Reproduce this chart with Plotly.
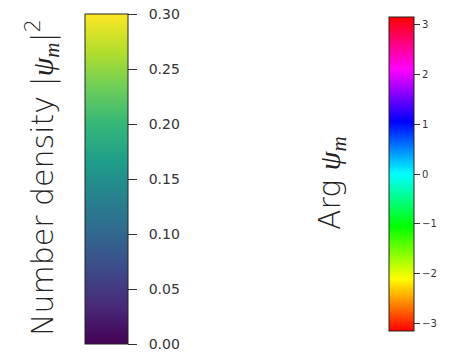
import math
import plotly.graph_objects as go

# Data
density_range = [0.0, 0.30]
density_ticks = [0.00, 0.05, 0.10, 0.15, 0.20, 0.25, 0.30]
phase_range = [-math.pi, math.pi]
phase_ticks = [-3, -2, -1, 0, 1, 2, 3]
phase_ticklabels = ["\u22123", "\u22122", "\u22121", "0", "1", "2", "3"]

hsv_scale = [[0.0, "#ff0000"], [1/6, "#ffff00"], [1/3, "#00ff00"], [0.5, "#00ffff"],
             [2/3, "#0000ff"], [5/6, "#ff00ff"], [1.0, "#ff0000"]]

# keep the end tick inside the colour range (float rounding)
d_tickvals = [min(t, density_range[1] * (1 - 1e-9)) for t in density_ticks]
d_ticktext = ["\u2007" + f"{t:.2f}" for t in density_ticks]

MATH = "font-family:'Liberation Serif';font-style:italic;font-weight:400"
PSI_M = (f"<span style=\"{MATH}\">\u03c8</span>"
         f"<sub><span style=\"{MATH}\">m</span></sub>")

fig = go.Figure()

fig.add_trace(go.Scatter(
    x=[None, None], y=[None, None], mode="markers", showlegend=False, hoverinfo="skip",
    marker=dict(
        color=density_range, cmin=density_range[0], cmax=density_range[1],
        colorscale="Viridis", showscale=True,
        colorbar=dict(
            xref="container", yref="container",
            x=77/469, xanchor="left", y=(354-171)/354, yanchor="middle",
            len=330/354, lenmode="fraction", thickness=43, thicknessmode="pixels",
            outlinecolor="#222222", outlinewidth=1,
            tickmode="array", tickvals=d_tickvals, ticktext=d_ticktext,
            ticklabeloverflow="allow",
            ticks="outside", ticklen=9, tickcolor="#333333", tickwidth=1,
            tickfont=dict(family="DejaVu Sans", size=14, color="#333333"),
            xpad=0, ypad=0, bgcolor="rgba(0,0,0,0)",
        ),
    ),
))

fig.add_trace(go.Scatter(
    x=[None, None], y=[None, None], mode="markers", showlegend=False, hoverinfo="skip",
    marker=dict(
        color=phase_range, cmin=phase_range[0], cmax=phase_range[1],
        colorscale=hsv_scale, showscale=True,
        colorbar=dict(
            xref="container", yref="container",
            x=381/469, xanchor="left", y=(354-166)/354, yanchor="middle",
            len=314/354, lenmode="fraction", thickness=25, thicknessmode="pixels",
            outlinecolor="#222222", outlinewidth=1,
            tickmode="array", tickvals=phase_ticks, ticktext=phase_ticklabels,
            ticklabeloverflow="allow",
            ticks="outside", ticklen=6, tickcolor="#333333", tickwidth=1,
            tickfont=dict(family="DejaVu Sans", size=10, color="#333333"),
            xpad=0, ypad=0, bgcolor="rgba(0,0,0,0)",
        ),
    ),
))

fig.add_annotation(
    text="Number density |" + PSI_M + "|<sup>2</sup>",
    xref="paper", yref="paper", x=34/469, y=(354-170)/354,
    showarrow=False, textangle=-90, xanchor="center", yanchor="middle",
    font=dict(family="DejaVu Sans", weight=300, size=30, color="#222222"),
)
fig.add_annotation(
    text="Arg " + PSI_M,
    xref="paper", yref="paper", x=323/469, y=(354-175)/354,
    showarrow=False, textangle=-90, xanchor="center", yanchor="middle",
    font=dict(family="DejaVu Sans", weight=300, size=30, color="#222222"),
)

fig.update_layout(
    width=469, height=354,
    margin=dict(l=0, r=0, t=0, b=0, autoexpand=False),
    paper_bgcolor="white", plot_bgcolor="white",
    xaxis=dict(visible=False, range=[0, 1]),
    yaxis=dict(visible=False, range=[0, 1]),
)

fig.write_html("out.html")
